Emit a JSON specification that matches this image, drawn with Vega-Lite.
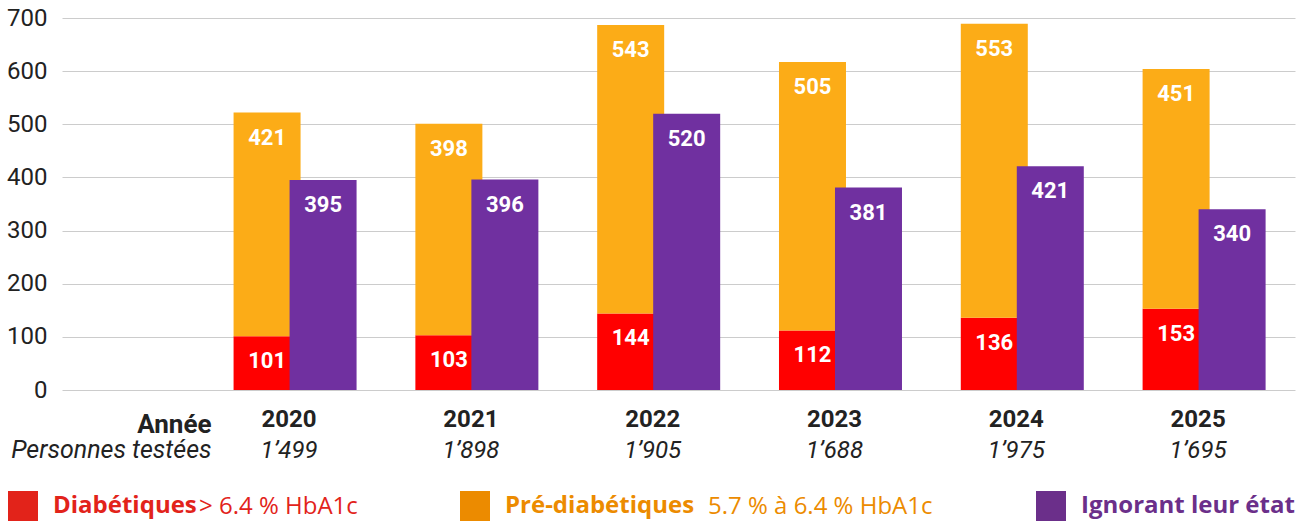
{
  "$schema": "https://vega.github.io/schema/vega-lite/v6.json",
  "width": 1230,
  "height": 372,
  "autosize": "none",
  "padding": {"left": 62, "top": 18, "right": 18, "bottom": 132},
  "config": {"view": {"stroke": null}, "font": "Roboto"},
  "data": {
    "values": [
      {"axe": "2020|1’499", "serie": "Diabétiques", "seuil": "> 6.4 % HbA1c", "valeur": 101},
      {"axe": "2020|1’499", "serie": "Pré-diabétiques", "seuil": "5.7 % à 6.4 % HbA1c", "valeur": 421},
      {"axe": "2020|1’499", "serie": "Ignorant leur état", "seuil": "", "valeur": 395},
      {"axe": "2021|1’898", "serie": "Diabétiques", "seuil": "> 6.4 % HbA1c", "valeur": 103},
      {"axe": "2021|1’898", "serie": "Pré-diabétiques", "seuil": "5.7 % à 6.4 % HbA1c", "valeur": 398},
      {"axe": "2021|1’898", "serie": "Ignorant leur état", "seuil": "", "valeur": 396},
      {"axe": "2022|1’905", "serie": "Diabétiques", "seuil": "> 6.4 % HbA1c", "valeur": 144},
      {"axe": "2022|1’905", "serie": "Pré-diabétiques", "seuil": "5.7 % à 6.4 % HbA1c", "valeur": 543},
      {"axe": "2022|1’905", "serie": "Ignorant leur état", "seuil": "", "valeur": 520},
      {"axe": "2023|1’688", "serie": "Diabétiques", "seuil": "> 6.4 % HbA1c", "valeur": 112},
      {"axe": "2023|1’688", "serie": "Pré-diabétiques", "seuil": "5.7 % à 6.4 % HbA1c", "valeur": 505},
      {"axe": "2023|1’688", "serie": "Ignorant leur état", "seuil": "", "valeur": 381},
      {"axe": "2024|1’975", "serie": "Diabétiques", "seuil": "> 6.4 % HbA1c", "valeur": 136},
      {"axe": "2024|1’975", "serie": "Pré-diabétiques", "seuil": "5.7 % à 6.4 % HbA1c", "valeur": 553},
      {"axe": "2024|1’975", "serie": "Ignorant leur état", "seuil": "", "valeur": 421},
      {"axe": "2025|1’695", "serie": "Diabétiques", "seuil": "> 6.4 % HbA1c", "valeur": 153},
      {"axe": "2025|1’695", "serie": "Pré-diabétiques", "seuil": "5.7 % à 6.4 % HbA1c", "valeur": 451},
      {"axe": "2025|1’695", "serie": "Ignorant leur état", "seuil": "", "valeur": 340}
    ]
  },
  "layer": [
    {
      "transform": [
        {"filter": "datum.serie !== 'Ignorant leur état'"},
        {"stack": "valeur", "groupby": ["axe"], "sort": [{"field": "serie", "order": "ascending"}], "as": ["v0", "v1"]}
      ],
      "layer": [
        {
          "transform": [{"filter": "datum.serie === 'Diabétiques'"}],
          "mark": {"type": "bar", "color": "#ff0000", "width": 67, "xOffset": -28},
          "encoding": {
            "x": {"field": "axe", "type": "nominal", "axis": null, "scale": {"type": "band", "range": [0, 1233], "paddingInner": 0, "paddingOuter": 0.391, "align": 1}},
            "y": {"field": "v1", "type": "quantitative", "scale": {"domain": [0, 700], "nice": false},
              "axis": {"orient": "left", "title": null, "values": [0, 100, 200, 300, 400, 500, 600, 700], "grid": true, "gridColor": "#cccccc", "gridWidth": 1, "domain": false, "ticks": false, "tickSize": 0, "labelPadding": 15, "labelFontSize": 24, "labelColor": "#222222"}},
            "y2": {"field": "v0"}
          }
        },
        {
          "transform": [{"filter": "datum.serie === 'Pré-diabétiques'"}],
          "mark": {"type": "bar", "color": "#fcac17", "width": 67, "xOffset": -28},
          "encoding": {
            "x": {"field": "axe", "type": "nominal", "axis": null, "scale": {"type": "band", "range": [0, 1233], "paddingInner": 0, "paddingOuter": 0.391, "align": 1}},
            "y": {"field": "v1", "type": "quantitative", "scale": {"domain": [0, 700], "nice": false},
              "axis": {"orient": "left", "title": null, "values": [0, 100, 200, 300, 400, 500, 600, 700], "grid": true, "gridColor": "#cccccc", "gridWidth": 1, "domain": false, "ticks": false, "tickSize": 0, "labelPadding": 15, "labelFontSize": 24, "labelColor": "#222222"}},
            "y2": {"field": "v0"}
          }
        },
        {
          "transform": [{"filter": "datum.serie === 'Diabétiques'"}],
          "mark": {"type": "text", "fontSize": 22, "fontWeight": "bold", "baseline": "middle", "dy": 25, "xOffset": -28, "strokeWidth": 0},
          "encoding": {
            "x": {"field": "axe", "type": "nominal", "axis": null, "scale": {"type": "band", "range": [0, 1233], "paddingInner": 0, "paddingOuter": 0.391, "align": 1}},
            "y": {"field": "v1", "type": "quantitative", "scale": {"domain": [0, 700], "nice": false},
              "axis": {"orient": "left", "title": null, "values": [0, 100, 200, 300, 400, 500, 600, 700], "grid": true, "gridColor": "#cccccc", "gridWidth": 1, "domain": false, "ticks": false, "tickSize": 0, "labelPadding": 15, "labelFontSize": 24, "labelColor": "#222222"}},
            "text": {"field": "valeur", "type": "quantitative"},
            "stroke": {"datum": "Diabétiques", "type": "nominal", "scale": {"range": ["#e2231a"]},
              "legend": {"orient": "none", "legendX": -54, "legendY": 473, "title": null, "padding": 0, "symbolType": "square", "symbolSize": 900, "symbolFillColor": "#e2231a", "symbolStrokeWidth": 0, "labelFont": "Open Sans", "labelFontSize": 24, "labelFontWeight": "bold", "labelColor": "#e2231a", "labelOffset": 15, "labelLimit": 0}},
            "fill": {"field": "seuil", "type": "nominal", "scale": {"range": ["#ffffff"]},
              "legend": {"orient": "none", "legendX": 113, "legendY": 477, "title": null, "padding": 0, "symbolType": "square", "symbolSize": 0, "labelFont": "Open Sans", "labelFontSize": 24, "labelFontWeight": "normal", "labelColor": "#e2231a", "labelOffset": 0, "labelLimit": 0}}
          }
        },
        {
          "transform": [{"filter": "datum.serie === 'Pré-diabétiques'"}],
          "mark": {"type": "text", "fontSize": 22, "fontWeight": "bold", "baseline": "middle", "dy": 25, "xOffset": -28, "strokeWidth": 0},
          "encoding": {
            "x": {"field": "axe", "type": "nominal", "axis": null, "scale": {"type": "band", "range": [0, 1233], "paddingInner": 0, "paddingOuter": 0.391, "align": 1}},
            "y": {"field": "v1", "type": "quantitative", "scale": {"domain": [0, 700], "nice": false},
              "axis": {"orient": "left", "title": null, "values": [0, 100, 200, 300, 400, 500, 600, 700], "grid": true, "gridColor": "#cccccc", "gridWidth": 1, "domain": false, "ticks": false, "tickSize": 0, "labelPadding": 15, "labelFontSize": 24, "labelColor": "#222222"}},
            "text": {"field": "valeur", "type": "quantitative"},
            "stroke": {"datum": "Pré-diabétiques", "type": "nominal", "scale": {"range": ["#ec8b00"]},
              "legend": {"orient": "none", "legendX": 398, "legendY": 473, "title": null, "padding": 0, "symbolType": "square", "symbolSize": 900, "symbolFillColor": "#ec8b00", "symbolStrokeWidth": 0, "labelFont": "Open Sans", "labelFontSize": 24, "labelFontWeight": "bold", "labelColor": "#ec8b00", "labelOffset": 15, "labelLimit": 0}},
            "fill": {"field": "seuil", "type": "nominal", "scale": {"range": ["#ffffff"]},
              "legend": {"orient": "none", "legendX": 622, "legendY": 477, "title": null, "padding": 0, "symbolType": "square", "symbolSize": 0, "labelFont": "Open Sans", "labelFontSize": 24, "labelFontWeight": "normal", "labelColor": "#ec8b00", "labelOffset": 0, "labelLimit": 0}}
          }
        }
      ],
      "resolve": {"scale": {"fill": "independent", "stroke": "independent"}}
    },
    {
      "transform": [{"filter": "datum.serie === 'Ignorant leur état'"}],
      "mark": {"type": "bar", "color": "#7030a0", "width": 67, "xOffset": 28},
      "encoding": {
        "x": {"field": "axe", "type": "nominal", "scale": {"type": "band", "range": [0, 1233], "paddingInner": 0, "paddingOuter": 0.391, "align": 1},
          "axis": {"orient": "bottom", "domain": false, "ticks": false, "tickSize": 0, "grid": false, "labelAngle": 0,
            "labelExpr": "split(datum.value, '|')[0]", "labelFontSize": 24, "labelFontWeight": "bold", "labelColor": "#222222",
            "labelBaseline": "alphabetic", "labelPadding": 36, "labelOffset": -6,
            "title": "Année", "titleX": 149, "titleY": 42, "titleAlign": "right", "titleBaseline": "alphabetic", "titleAngle": 0,
            "titleFontSize": 26, "titleFontWeight": "bold", "titleColor": "#222222"}},
        "y": {"field": "valeur", "type": "quantitative", "scale": {"domain": [0, 700], "nice": false},
          "axis": {"orient": "left", "title": null, "values": [0, 100, 200, 300, 400, 500, 600, 700], "grid": true, "gridColor": "#cccccc", "gridWidth": 1, "domain": false, "ticks": false, "tickSize": 0, "labelPadding": 15, "labelFontSize": 24, "labelColor": "#222222"}}
      }
    },
    {
      "transform": [{"filter": "datum.serie === 'Ignorant leur état'"}],
      "mark": {"type": "text", "fontSize": 22, "fontWeight": "bold", "baseline": "middle", "dy": 25, "xOffset": 28, "strokeWidth": 0},
      "encoding": {
        "x": {"field": "axe", "type": "nominal", "scale": {"type": "band", "range": [0, 1233], "paddingInner": 0, "paddingOuter": 0.391, "align": 1},
          "axis": {"orient": "bottom", "domain": false, "ticks": false, "tickSize": 0, "grid": false, "labelAngle": 0,
            "labelExpr": "split(datum.value, '|')[1]", "labelFontSize": 24, "labelFontStyle": "italic", "labelColor": "#222222",
            "labelBaseline": "alphabetic", "labelPadding": 67, "labelOffset": -6,
            "title": "Personnes testées", "titleX": 149, "titleY": 67, "titleAlign": "right", "titleBaseline": "alphabetic", "titleAngle": 0,
            "titleFontSize": 25, "titleFontWeight": "normal", "titleFontStyle": "italic", "titleColor": "#222222"}},
        "y": {"field": "valeur", "type": "quantitative", "scale": {"domain": [0, 700], "nice": false},
          "axis": {"orient": "left", "title": null, "values": [0, 100, 200, 300, 400, 500, 600, 700], "grid": true, "gridColor": "#cccccc", "gridWidth": 1, "domain": false, "ticks": false, "tickSize": 0, "labelPadding": 15, "labelFontSize": 24, "labelColor": "#222222"}},
        "text": {"field": "valeur", "type": "quantitative"},
        "fill": {"field": "seuil", "type": "nominal", "scale": {"range": ["#ffffff"]}, "legend": null},
        "stroke": {"datum": "Ignorant leur état", "type": "nominal", "scale": {"range": ["#6b2f8a"]},
          "legend": {"orient": "none", "legendX": 974, "legendY": 473, "title": null, "padding": 0, "symbolType": "square", "symbolSize": 900, "symbolFillColor": "#6b2f8a", "symbolStrokeWidth": 0, "labelFont": "Open Sans", "labelFontSize": 24, "labelFontWeight": "bold", "labelColor": "#6b2f8a", "labelOffset": 15, "labelLimit": 0}}
      }
    }
  ],
  "resolve": {"axis": {"x": "independent"}, "scale": {"fill": "independent", "stroke": "independent"}}
}
